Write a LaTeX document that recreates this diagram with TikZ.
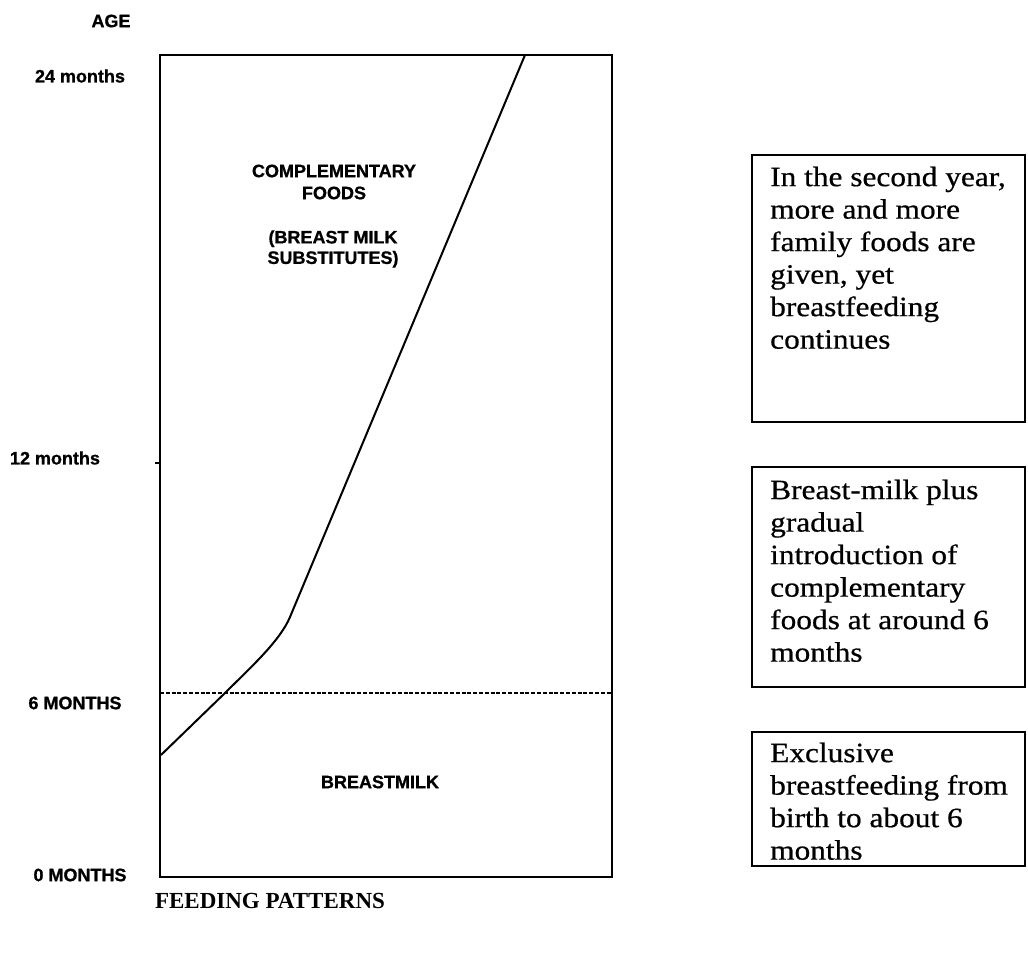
\documentclass[tikz,border=0pt]{standalone}
\usepackage{fontspec}
\setmainfont{Liberation Serif}
\newfontfamily\lblfont[FakeBold=0.8]{Liberation Sans}
\newfontfamily\boxfont[FakeStretch=1.12,FakeBold=0.6]{Liberation Serif}
\begin{document}
\begin{tikzpicture}[x=1pt,y=-1pt,
  lbl/.style={font=\lblfont\bfseries\fontsize{18}{22}\selectfont, inner sep=0, align=center},
  frame/.style={draw, line width=2pt, inner sep=0, outer sep=0},
  infobox/.style={draw, line width=1.8pt, inner sep=0, outer sep=0, anchor=north west, minimum width=273},
  boxtext/.style={font=\boxfont\fontsize{28}{32.5}\selectfont, inner sep=0, align=left, anchor=north west},
  curve/.style={line width=2pt, line join=round},
  sixline/.style={line width=1.6pt, dash pattern=on 4pt off 1.8pt}
]
\useasboundingbox (0,0) rectangle (1028,955);
\fill[white] (0,0) rectangle (1028,955);

% main chart frame
\node[frame, minimum width=452, minimum height=822, anchor=north west] (chart) at (160,55) {};

% axis labels
\node[lbl] (age) at (111,21) {AGE};
\node[lbl] (m24) at (80,76) {24 months};
\node[lbl] (m12) at (55,458) {12 months};
\node[lbl] (m6) at (75,703) {6 MONTHS};
\node[lbl] (m0) at (80,875) {0 MONTHS};

% tick at 12 months
\coordinate (t12) at (155,463);
\draw[line width=1.2pt] (t12) -- (chart.west |- t12);

% 6 months dashed line
\coordinate (dL) at (160,693);
\coordinate (dR) at (612,693);
\draw[sixline] (dL) -- (dR);

% feeding curve
\coordinate (c0) at (161,755);
\coordinate (c1) at (225,693);
\coordinate (c3) at (290,617);
\coordinate (c4) at (525,55);
\draw[curve] (c0) -- (c1) .. controls (250,668) and (280,641) .. (c3) -- (c4);

% labels inside chart
\node[lbl] (cf) at (334,182) {COMPLEMENTARY\\FOODS};
\node[lbl, font=\lblfont\bfseries\fontsize{18}{20.5}\selectfont] (bms) at (333,249) {(BREAST MILK\\SUBSTITUTES)};
\node[lbl] (bm) at (380,782) {BREASTMILK};

% right-hand boxes
\node[infobox, minimum height=267] (b1) at (752,155) {};
\node[boxtext] (t1) at ([xshift=18,yshift=-11.5]b1.north west)
  {In the second year,\\more and more\\family foods are\\given, yet\\breastfeeding\\continues};

\node[infobox, minimum height=220] (b2) at (752,467) {};
\node[boxtext] (t2) at ([xshift=18,yshift=-12.5]b2.north west)
  {Breast-milk plus\\gradual\\introduction of\\complementary\\foods at around 6\\months};

\node[infobox, minimum height=134] (b3) at (752,732) {};
\node[boxtext] (t3) at ([xshift=18,yshift=-10.5]b3.north west)
  {Exclusive\\breastfeeding from\\birth to about 6\\months};

% title
\node[font=\bfseries\fontsize{23}{26}\selectfont, inner sep=0] (title) at (270,901) {FEEDING PATTERNS};
\end{tikzpicture}
\end{document}
